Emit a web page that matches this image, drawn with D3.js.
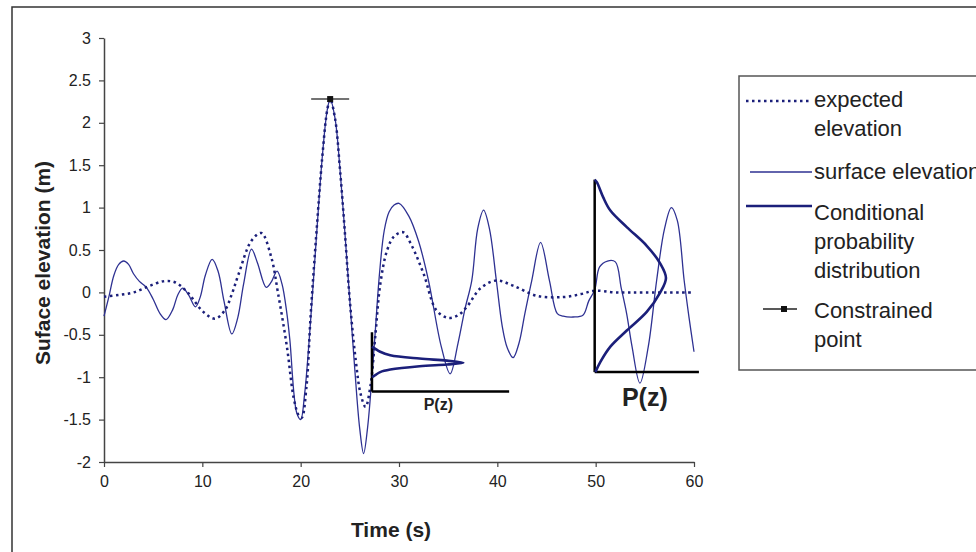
<!DOCTYPE html>
<html>
<head>
<meta charset="utf-8">
<script src="https://cdn.jsdelivr.net/npm/d3@7"></script>
<style>
  body { margin: 0; background: #fff; }
  svg { display: block; font-family: Arial, "Liberation Sans", sans-serif; }
</style>
</head>
<body>
<svg id="chart" width="976" height="552"></svg>
<script>
// surface elevation (thin solid line)
var surfaceT = [0, 0.5, 1, 1.5, 2, 2.5, 3, 3.6, 4.3, 5, 5.7, 6.3, 7, 7.5, 8, 8.6, 9.3, 9.8, 10.3, 11, 11.6, 12.2, 13, 13.6, 14.2, 15, 15.6, 16.5, 17, 17.6, 18.1, 18.6, 18.9, 19.6, 20, 20.4, 21, 21.6, 22.2, 22.7, 23, 23.5, 24, 24.5, 25, 25.5, 26, 26.4, 26.8, 27.5, 28, 28.5, 29, 29.5, 30, 31, 32, 33, 34.3, 35.2, 36, 36.7, 37.4, 38, 38.6, 39.2, 39.9, 40.5, 41, 41.6, 42.2, 42.8, 43.5, 44.4, 45.3, 46.1, 46.7, 47.7, 48.7, 49.3, 49.9, 50.4, 51.2, 52, 52.6, 53.15, 53.7, 54.5, 55.35, 56.2, 57, 57.7, 58.3, 59, 59.5, 60]
var surfaceZ = [-0.28, -0.05, 0.2, 0.33, 0.37, 0.33, 0.22, 0.13, 0.06, -0.08, -0.25, -0.32, -0.2, -0.03, 0.05, -0.03, -0.17, -0.05, 0.2, 0.39, 0.25, -0.1, -0.49, -0.3, 0.1, 0.51, 0.35, 0.06, 0.12, 0.25, 0.1, -0.25, -0.56, -1.42, -1.5, -1.2, -0.35, 0.65, 1.6, 2.15, 2.28, 2.05, 1.45, 0.7, -0.1, -0.9, -1.6, -1.9, -1.6, -0.6, 0.2, 0.73, 0.95, 1.03, 1.05, 0.9, 0.6, 0.14, -0.64, -0.96, -0.6, -0.2, 0.14, 0.75, 0.97, 0.75, 0.14, -0.4, -0.65, -0.77, -0.6, -0.25, 0.14, 0.59, 0.14, -0.25, -0.28, -0.29, -0.27, -0.1, 0.03, 0.3, 0.37, 0.36, 0.05, -0.25, -0.64, -1.07, -0.64, 0.14, 0.75, 1.0, 0.85, 0.14, -0.3, -0.7]

// expected elevation (dotted line)
var expectedT = [0, 1.5, 3, 4.5, 6, 7.2, 8.5, 10.1, 11.3, 12.3, 13, 13.7, 15, 16, 17, 17.7, 18.6, 19.3, 19.8, 20.1, 20.6, 21, 21.6, 22.2, 22.7, 23, 23.5, 24, 24.5, 25, 25.6, 26.1, 26.6, 27.1, 27.6, 28.1, 28.8, 29.5, 30.4, 31.3, 32.5, 33.8, 35, 36, 36.9, 38.3, 39.9, 41.6, 44, 46.7, 48.5, 49.9, 52, 55, 60]
var expectedZ = [-0.05, -0.03, 0, 0.07, 0.13, 0.12, 0, -0.23, -0.31, -0.21, -0.02, 0.22, 0.61, 0.7, 0.42, -0.01, -0.64, -1.25, -1.45, -1.48, -1.1, -0.3, 0.7, 1.6, 2.15, 2.28, 2.05, 1.45, 0.7, -0.1, -0.8, -1.2, -1.35, -1.1, -0.5, 0.1, 0.5, 0.66, 0.71, 0.55, 0.22, -0.21, -0.3, -0.27, -0.17, 0.05, 0.14, 0.08, -0.04, -0.055, -0.02, 0.02, 0, 0, 0]

// constrained point
var constrainedT = [23]
var constrainedZ = [2.28]

// conditional probability distributions, P relative to its peak
var pdf1Z = [-0.64, -0.66, -0.70, -0.74, -0.78, -0.805, -0.83, -0.85, -0.87, -0.91, -0.94, -0.98, -1.0]
var pdf1P = [0, 0.03, 0.09, 0.2, 0.52, 0.82, 1.0, 0.82, 0.52, 0.2, 0.09, 0.03, 0]
var pdf2Z = [1.33, 1.30, 1.12, 0.965, 0.77, 0.55, 0.34, 0.17, 0.0, -0.23, -0.45, -0.64, -0.82, -0.94]
var pdf2P = [0, 0.03, 0.12, 0.22, 0.45, 0.73, 0.92, 1.0, 0.92, 0.73, 0.45, 0.22, 0.08, 0.01]

var xTicks = [0, 10, 20, 30, 40, 50, 60]
var yTicks = [-2, -1.5, -1, -0.5, 0, 0.5, 1, 1.5, 2, 2.5, 3]
var legendLabels = [['expected', 'elevation'], ['surface elevation'], ['Conditional', 'probability', 'distribution'], ['Constrained', 'point']]

var navy = '#1b1f7a', thinBlue = '#2e3192'

var svg = d3.select('#chart')

// outer frame
svg.append('rect')
    .attr('x', 12).attr('y', 7).attr('width', 990).attr('height', 560)
    .attr('fill', 'none').attr('stroke', '#333').attr('stroke-width', 1.5)

var x = d3.scaleLinear().domain([0, 60]).range([104, 694])
var y = d3.scaleLinear().domain([-2, 3]).range([462, 38])

var gx = svg.append('g')
    .attr('transform', `translate(0,${y(-2)})`)
    .call(d3.axisBottom(x).tickValues(xTicks).tickSize(5).tickSizeOuter(0).tickPadding(9).tickFormat(d => String(d)))
var gy = svg.append('g')
    .attr('transform', `translate(${x(0)},0)`)
    .call(d3.axisLeft(y).tickValues(yTicks).tickSize(5).tickSizeOuter(0).tickPadding(8).tickFormat(d => String(d)))
;[gx, gy].forEach(function (g) {
    g.select('.domain').attr('stroke', '#444').attr('stroke-width', 1.5)
    g.selectAll('.tick line').attr('stroke', '#444').attr('stroke-width', 1.2)
    g.selectAll('.tick text').attr('fill', '#222').style('font-size', '16px').style('font-family', 'Arial, "Liberation Sans", sans-serif')
})

svg.append('text')
    .attr('x', 391).attr('y', 537)
    .attr('text-anchor', 'middle')
    .style('font-size', '21px').style('font-weight', 'bold').attr('fill', '#222')
    .text('Time (s)')
svg.append('text')
    .attr('transform', 'translate(50,263) rotate(-90)')
    .attr('text-anchor', 'middle')
    .style('font-size', '21px').style('font-weight', 'bold').attr('fill', '#222')
    .text('Suface elevation (m)')

var line = d3.line()
    .x(d => x(d[0]))
    .y(d => y(d[1]))
    .curve(d3.curveCatmullRom.alpha(0.5))

svg.append('path')
    .attr('d', line(d3.zip(surfaceT, surfaceZ)))
    .attr('fill', 'none').attr('stroke', thinBlue).attr('stroke-width', 1.3)

svg.append('path')
    .attr('d', line(d3.zip(expectedT, expectedZ)))
    .attr('fill', 'none').attr('stroke', navy).attr('stroke-width', 2.5)
    .attr('stroke-dasharray', '2.5,3.5')

// constrained point
svg.selectAll('.cbar').data(d3.zip(constrainedT, constrainedZ)).join('line')
    .attr('class', 'cbar')
    .attr('x1', d => x(d[0]) - 19).attr('x2', d => x(d[0]) + 19)
    .attr('y1', d => y(d[1])).attr('y2', d => y(d[1]))
    .attr('stroke', '#444').attr('stroke-width', 1.5)
svg.selectAll('.cpt').data(d3.zip(constrainedT, constrainedZ)).join('rect')
    .attr('class', 'cpt')
    .attr('x', d => x(d[0]) - 3).attr('y', d => y(d[1]) - 3)
    .attr('width', 6).attr('height', 6).attr('fill', '#111')

// insets: axes in data units, P scaled to a peak position
var insets = [
    { t0: 27.25, z0: -1.17, zTop: -0.47, tEnd: 41.2, tPeak: 36.55, z: pdf1Z, p: pdf1P, label: 'P(z)', size: 16, labelT: 34.0, labelZ: -1.39 },
    { t0: 49.9, z0: -0.94, zTop: 1.33, tEnd: 60.5, tPeak: 57.15, z: pdf2Z, p: pdf2P, label: 'P(z)', size: 25, labelT: 55.0, labelZ: -1.34 }
]
insets.forEach(function (ins) {
    var pScale = d3.scaleLinear().domain([0, 1]).range([x(ins.t0), x(ins.tPeak)])
    svg.append('line')
        .attr('x1', x(ins.t0)).attr('x2', x(ins.t0))
        .attr('y1', y(ins.z0)).attr('y2', y(ins.zTop))
        .attr('stroke', '#000').attr('stroke-width', 2.5)
    svg.append('line')
        .attr('x1', x(ins.t0)).attr('x2', x(ins.tEnd))
        .attr('y1', y(ins.z0)).attr('y2', y(ins.z0))
        .attr('stroke', '#000').attr('stroke-width', 2.5)
    var pLine = d3.line()
        .x(d => pScale(d[1]))
        .y(d => y(d[0]))
        .curve(d3.curveCatmullRom.alpha(0.5))
    svg.append('path')
        .attr('d', pLine(d3.zip(ins.z, ins.p)))
        .attr('fill', 'none').attr('stroke', navy).attr('stroke-width', 2.6)
    svg.append('text')
        .attr('x', x(ins.labelT)).attr('y', y(ins.labelZ))
        .attr('text-anchor', 'middle')
        .style('font-size', ins.size + 'px').style('font-weight', 'bold').attr('fill', '#222')
        .text(ins.label)
})

// legend
var lg = svg.append('g')
lg.append('rect')
    .attr('x', 739).attr('y', 76).attr('width', 300).attr('height', 294)
    .attr('fill', '#fff').attr('stroke', '#555').attr('stroke-width', 1.5)
var symY = [101, 172, 206, 309]
var textY = [107, 179, 220, 318]
lg.append('line').attr('x1', 746).attr('x2', 812).attr('y1', symY[0]).attr('y2', symY[0])
    .attr('stroke', navy).attr('stroke-width', 2.5).attr('stroke-dasharray', '2.5,3.5')
lg.append('line').attr('x1', 750).attr('x2', 812).attr('y1', symY[1]).attr('y2', symY[1])
    .attr('stroke', thinBlue).attr('stroke-width', 1.3)
lg.append('line').attr('x1', 746).attr('x2', 812).attr('y1', symY[2]).attr('y2', symY[2])
    .attr('stroke', navy).attr('stroke-width', 2.6)
lg.append('line').attr('x1', 763).attr('x2', 797).attr('y1', symY[3]).attr('y2', symY[3])
    .attr('stroke', '#222').attr('stroke-width', 1.3)
lg.append('rect').attr('x', 781).attr('y', symY[3] - 3).attr('width', 6).attr('height', 6).attr('fill', '#111')
legendLabels.forEach(function (lines, i) {
    lines.forEach(function (s, j) {
        lg.append('text')
            .attr('x', 814).attr('y', textY[i] + j * 29)
            .style('font-size', '22px').attr('fill', '#222')
            .text(s)
    })
})
</script>
</body>
</html>
